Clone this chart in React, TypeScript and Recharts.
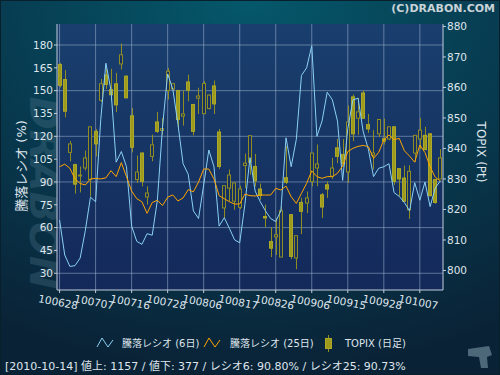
import { ComposedChart, Bar, Line, XAxis, YAxis, CartesianGrid } from "recharts";

// trading days 2010-06-28 .. 2010-10-14
const dates = [
  "100628", "100629", "100630", "100701", "100702", "100705", "100706", "100707", "100708", "100709",
  "100712", "100713", "100714", "100715", "100716", "100720", "100721", "100722", "100723", "100726",
  "100727", "100728", "100729", "100730", "100802", "100803", "100804", "100805", "100806", "100809",
  "100810", "100811", "100812", "100813", "100816", "100817", "100818", "100819", "100820", "100823",
  "100824", "100825", "100826", "100827", "100830", "100831", "100901", "100902", "100903", "100906",
  "100907", "100908", "100909", "100910", "100913", "100914", "100915", "100916", "100917", "100921",
  "100922", "100924", "100927", "100928", "100929", "100930", "101001", "101004", "101005", "101006",
  "101007", "101008", "101012", "101013", "101014",
];

// 騰落レシオ (6日)
const ratio6 = [
  65, 42, 34.5, 35, 40, 58, 80, 77, 131, 168,
  150, 103, 110, 100, 61, 51, 49, 56, 55, 78,
  126, 161, 151, 128, 102, 95, 71, 66, 88, 111,
  100, 61, 66.5, 59.5, 52, 50, 75, 106, 84, 77,
  71, 66, 64, 71, 119, 100, 118, 160, 165, 179.5,
  120, 130, 149, 144, 130, 91, 125, 144, 145, 123,
  111.5, 93.5, 99, 100, 102, 83, 80.5, 76.5, 71, 89.5,
  78, 90, 73.8, 86, 90.8,
];

// 騰落レシオ (25日)
const ratio25 = [
  100, 101.7, 99, 92, 89, 88, 92, 92.3, 92, 92.7,
  97.4, 93.5, 102.7, 93.5, 84, 79, 77, 69.4, 76.5, 78,
  74.5, 80, 81.5, 77.5, 79.5, 85, 83.5, 90, 98.5, 98.5,
  92, 81, 79, 77, 75.5, 75.5, 82, 81, 80.8, 81.4,
  81.4, 81.4, 85.8, 84.7, 87.3, 80.3, 75.9, 82.5, 89.1, 97.3,
  93.5, 92.4, 93.5, 93.5, 95.7, 100.5, 110, 112.1, 113.4, 114,
  113.2, 105.5, 109.4, 117.6, 120.8, 117.8, 118.6, 110.5, 107, 103,
  114.3, 109.3, 100, 93, 90.73,
];

// TOPIX daily candles
const topixOpen = [
  867.5, 862.6, 838.7, 834.7, 831.0, 833.6, 829.8, 845.6, 855.8, 864.1,
  859.3, 861.2, 867.7, 863.7, 850.7, 829.8, 838.5, 824.1, 837.4, 848.7,
  845.9, 859, 859.5, 859, 850.6, 861.8, 854.4, 856.5, 851.4, 853.1,
  860.5, 845.4, 820.5, 827, 822.7, 820.7, 834.4, 835.5, 834.1, 826.7,
  817.7, 809.5, 811, 804.4, 830.4, 818.3, 804.1, 822.3, 822.1, 829.2,
  833.6, 824.8, 828.1, 830.9, 840.2, 838, 832.3, 856.9, 849.9, 858.2,
  847.8, 837.8, 844.8, 843.2, 843.1, 847.1, 833.4, 830.3, 819.9, 838.5,
  843.1, 844.3, 844.8, 829.8, 830,
];
const topixHigh = [
  868, 865.7, 842.4, 835, 834.1, 839.3, 847.1, 846.4, 862.8, 866.1,
  866.1, 864.8, 874.4, 864, 853.3, 837.7, 838.7, 827.6, 844.5, 852,
  850, 866.4, 861.5, 859.2, 859, 864.2, 854.6, 859.9, 862.1, 857.7,
  862.3, 846.4, 827.8, 833.1, 828.9, 827.8, 838.3, 844.2, 838.2, 828.5,
  821.6, 814.2, 817.2, 821, 840.7, 818.5, 811.4, 823.8, 825.9, 838.5,
  841.3, 825.4, 829.2, 836.9, 843.1, 843.1, 854.1, 857.7, 856.6, 859,
  851.3, 846, 849.5, 849.8, 847.1, 847.3, 833.6, 834.4, 834.5, 844.3,
  850, 847.1, 845, 829.9, 839.8,
];
const topixLow = [
  860, 850.2, 835.8, 825.2, 825.6, 832.8, 824.3, 837.4, 855.3, 859.5,
  855.5, 851.9, 865.9, 856.4, 838.7, 828.7, 827.6, 821.6, 835.8, 845.1,
  844.5, 856, 859, 846.7, 847.5, 855.5, 844.3, 851.3, 851.3, 852.8,
  851.3, 833.3, 817.2, 822.7, 819.9, 820.1, 827, 831.4, 827.6, 823.2,
  814.2, 804.4, 805.1, 804.4, 828.3, 803.7, 800.4, 811.9, 818.8, 827.6,
  827.6, 817.2, 823.8, 830, 835.2, 834.1, 828.7, 842.4, 844.5, 849.7,
  845.1, 833.1, 843.7, 841.3, 842.7, 828.1, 824.3, 822.3, 816.9, 835.6,
  839.8, 839.6, 824.3, 821.9, 830,
];
const topixClose = [
  860.7, 852.2, 841.5, 828.3, 831.3, 836.9, 847.1, 841.5, 861.2, 861,
  857.6, 854.3, 870.7, 856.6, 840.4, 832.3, 829.2, 825.4, 841.2, 845.6,
  846.5, 865.3, 861.2, 849.5, 851.3, 859.1, 845.6, 857.2, 861.3, 857.5,
  854.6, 834.1, 827.8, 831.3, 828.7, 826.7, 835.2, 844.2, 829.4, 824.6,
  817.2, 807.3, 811.7, 819.6, 828.9, 804.6, 811.4, 819.4, 823.8, 838.5,
  834.9, 820.8, 826.7, 833.6, 837.4, 835, 848.7, 844.8, 852, 849.9,
  846.4, 838.5, 849.5, 842.4, 847.1, 829.2, 830, 822.7, 832.5, 844.3,
  846, 839.6, 824.5, 822.3, 836.9,
];

const leftTicks = [30, 45, 60, 75, 90, 105, 120, 135, 150, 165, 180];
const rightTicks = [800, 810, 820, 830, 840, 850, 860, 870, 880];

const data = dates.map((date, i) => ({
  date,
  r6: ratio6[i],
  r25: ratio25[i],
  open: topixOpen[i],
  high: topixHigh[i],
  low: topixLow[i],
  close: topixClose[i],
}));

const FONT = '"DejaVu Sans", "Noto Sans CJK JP", sans-serif';
const TEXT = "#dfe5ec";
const AXIS = "#c3cddc";

const Candle = (props: any) => {
  const { x, y, width, height, payload } = props;
  if (!payload || x == null || y == null) return null;
  const { open, high, low, close } = payload;
  const top = Math.min(y, y + height);
  const h = Math.abs(height);
  const k = high - low > 0 ? h / (high - low) : 0;
  const py = (v: number) => top + (high - v) * k;
  const cx = Math.round(x + width / 2) + 0.5;
  const up = close >= open;
  const bTop = py(Math.max(open, close));
  const bH = Math.max(py(Math.min(open, close)) - bTop, 1);
  return (
    <g>
      <line x1={cx} x2={cx} y1={top} y2={top + h} stroke="#8f8c22" strokeWidth={1} />
      <rect
        x={cx - 2}
        y={bTop}
        width={3}
        height={bH}
        fill={up ? "#17305e" : "#9d9a1c"}
        stroke={up ? "#8f8c24" : "#aca82a"}
        strokeWidth={1}
      />
    </g>
  );
};

const DateTick = ({ x, y, payload }: any) => (
  <g transform={`translate(${x},${y})`}>
    <text
      transform="rotate(11)"
      textAnchor="middle"
      dy={11}
      fontSize={10.5}
      fill={TEXT}
      fontFamily={FONT}
    >
      {payload.value}
    </text>
  </g>
);

const tickIdx = dates.map((_, i) => i).filter((i) => i % 7 === 0);

const Background = () => (
  <svg width={500} height={375} style={{ position: "absolute", left: 0, top: 0 }}>
    <defs>
      <radialGradient id="outerBg" cx="0.5" cy="0" r="1">
        <stop offset="0" stopColor="#05586a" />
        <stop offset="0.45" stopColor="#073f54" />
        <stop offset="1" stopColor="#0a2236" />
      </radialGradient>
      <linearGradient id="plotBg" x1="0" y1="0" x2="0" y2="1">
        <stop offset="0" stopColor="#193f6e" />
        <stop offset="1" stopColor="#13295a" />
      </linearGradient>
    </defs>
    <rect x={0} y={0} width={500} height={375} fill="url(#outerBg)" />
    <rect x={0.5} y={0.5} width={499} height={374} fill="none" stroke="#08202e" />
    <text
      transform="translate(30,190) rotate(90) skewX(-12)"
      textAnchor="middle"
      fontSize={40}
      fontWeight={900}
      fontFamily={FONT}
      fill="#5d8296"
      fillOpacity={0.28}
    >
      DRABON
    </text>
    <text x={495} y={12} textAnchor="end" fontSize={11} fontWeight="bold" fontFamily={FONT} fill="#c9d3d8">
      (C)DRABON.COM
    </text>
    <text
      transform="translate(26,166) rotate(-90)"
      textAnchor="middle"
      fontSize={13}
      fontFamily={FONT}
      fill={TEXT}
    >
      騰落レシオ (%)
    </text>
    <text
      transform="translate(477,152) rotate(90)"
      textAnchor="middle"
      fontSize={12}
      fontFamily={FONT}
      fill={TEXT}
    >
      TOPIX (Pt)
    </text>
    {/* legend */}
    <polyline points="97,347 102,338 108,347 113,340" fill="none" stroke="#8ad0f5" strokeWidth={1} />
    <text x={122} y={347} fontSize={10} fontFamily={FONT} fill={TEXT}>
      騰落レシオ (6日)
    </text>
    <polyline points="204,347 209,338 215,347 220,340" fill="none" stroke="#ffa500" strokeWidth={1} />
    <text x={230} y={347} fontSize={10} fontFamily={FONT} fill={TEXT}>
      騰落レシオ (25日)
    </text>
    <line x1={328.5} x2={328.5} y1={335} y2={352} stroke="#8f8c22" />
    <rect x={325.5} y={338.5} width={6} height={10} fill="#9d9a1c" stroke="#aca82a" />
    <text x={345} y={347} fontSize={10} fontFamily={FONT} fill={TEXT}>
      TOPIX (日足)
    </text>
    <text x={5} y={370} fontSize={11} fontFamily={FONT} fill={TEXT}>
      [2010-10-14] 値上: 1157 / 値下: 377 / レシオ6: 90.80% / レシオ25: 90.73%
    </text>
    <polygon points="468,349 489,346 492,355 487,357 488,368 481,368 479,357 468,356" fill="#4d6878" />
  </svg>
);

export default function App() {
  return (
    <div style={{ position: "relative", width: 500, height: 375 }}>
      <style>{"body{margin:0}"}</style>
      <Background />
      <div style={{ position: "absolute", left: 0, top: 0 }}>
        <ComposedChart
          width={500}
          height={375}
          data={data}
          margin={{ top: 24, right: 0, bottom: 0, left: 0 }}
        >
          <CartesianGrid
            yAxisId="left"
            fill="url(#plotBg)"
            stroke="#9fb2cc"
            strokeOpacity={0.55}
            syncWithTicks
            verticalCoordinatesGenerator={(p: any) => {
              const s = p?.xAxis?.scale;
              if (s && typeof s === "function") {
                const bw = typeof s.bandwidth === "function" ? s.bandwidth() : 0;
                return tickIdx.map((i) => s(dates[i]) + bw / 2);
              }
              const left = p?.offset?.left ?? 57;
              const w = p?.offset?.width ?? 386;
              return tickIdx.map((i) => left + ((i + 0.5) * w) / dates.length);
            }}
          />
          <XAxis
            dataKey="date"
            interval={6}
            height={85}
            tickSize={3}
            tick={<DateTick />}
            stroke={AXIS}
            axisLine={{ stroke: AXIS }}
            tickLine={{ stroke: AXIS }}
          />
          <YAxis
            yAxisId="left"
            width={57}
            domain={[19, 193.8]}
            ticks={leftTicks}
            allowDataOverflow
            tickSize={3}
            tickMargin={1}
            axisLine={{ stroke: AXIS }}
            tickLine={{ stroke: AXIS }}
            tick={{ fill: TEXT, fontSize: 10.5, fontFamily: FONT }}
          />
          <YAxis
            yAxisId="right"
            orientation="right"
            width={57}
            domain={[793.6, 880.8]}
            ticks={rightTicks}
            allowDataOverflow
            tickSize={3}
            tickMargin={1}
            axisLine={{ stroke: AXIS }}
            tickLine={{ stroke: AXIS }}
            tick={{ fill: TEXT, fontSize: 10.5, fontFamily: FONT }}
          />
          <Bar
            yAxisId="right"
            dataKey={(d: any) => [d.low, d.high]}
            barSize={5}
            shape={<Candle />}
            isAnimationActive={false}
          />
          <Line
            yAxisId="left"
            dataKey="r6"
            type="linear"
            stroke="#8ad0f5"
            strokeWidth={1}
            dot={false}
            activeDot={false}
            isAnimationActive={false}
          />
          <Line
            yAxisId="left"
            dataKey="r25"
            type="linear"
            stroke="#ffa500"
            strokeWidth={1}
            dot={false}
            activeDot={false}
            isAnimationActive={false}
          />
        </ComposedChart>
      </div>
    </div>
  );
}
